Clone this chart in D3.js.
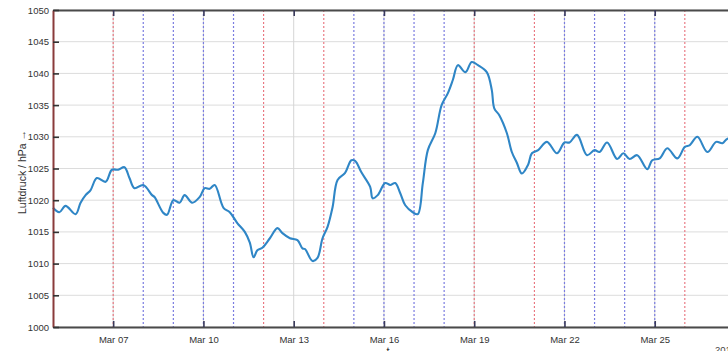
<!DOCTYPE html>
<html>
<head>
<meta charset="utf-8">
<script src="https://cdn.jsdelivr.net/npm/d3@7"></script>
<style>
  html, body { margin: 0; padding: 0; background: #fff; }
  svg { display: block; }
  text { font-family: "Liberation Sans", Arial, sans-serif; }
</style>
</head>
<body>
<svg id="chart" width="728" height="351"></svg>
<script>
// Pressure record, hours after 2015-03-05 00:00 UTC
const hours = [0, 5, 10, 18, 22, 26, 30, 35, 42, 47, 52, 57, 61, 65, 72, 79, 81, 88, 91, 96,
  101, 105, 111, 117, 121, 125, 129, 136, 141, 147, 153, 157, 160, 163, 167, 173, 179, 183, 189, 195,
  199, 201, 207, 211, 215, 219, 223, 227, 233, 238, 241, 246, 253, 255, 259, 265, 269, 273, 277, 281,
  287, 291, 295, 299, 305, 310, 315, 319, 323, 329, 334, 339, 346, 350, 352, 356, 362, 366, 370, 374,
  379, 382, 387, 394, 402, 408, 412, 418, 426, 432, 436, 442, 450, 455, 460, 466, 474, 478, 484, 490,
  498, 504, 508, 514, 522, 529, 534, 538, 548];
const pressure = [1018.8, 1018.1, 1019.1, 1017.8, 1019.6, 1020.8, 1021.6, 1023.5, 1022.9, 1024.8,
  1024.8, 1025.2, 1023.5, 1021.9, 1022.4, 1020.8, 1020.5, 1018.0, 1017.7, 1020.0,
  1019.6, 1020.8, 1019.6, 1020.5, 1021.9, 1021.8, 1022.4, 1018.8, 1018.1, 1016.4,
  1015.0, 1013.3, 1011.0, 1012.1, 1012.5, 1014.0, 1015.6, 1014.8, 1014.0, 1013.7,
  1012.4, 1012.3, 1010.4, 1010.9, 1014.0, 1015.8, 1018.9, 1023.2, 1024.3, 1026.3,
  1026.2, 1024.4, 1022.1, 1020.3, 1020.8, 1022.7, 1022.4, 1022.7, 1021.1, 1019.2,
  1018.1, 1017.8, 1022.7, 1027.9, 1030.6, 1035.0, 1036.9, 1039.0, 1041.3, 1040.2,
  1041.8, 1041.3, 1040.2, 1037.4, 1034.5, 1033.4, 1030.6, 1027.6, 1025.9, 1024.2,
  1025.6, 1027.4, 1027.9, 1029.2, 1027.4, 1029.1, 1029.1, 1030.3, 1027.1, 1027.9,
  1027.6, 1029.1, 1026.5, 1027.4, 1026.5, 1027.1, 1024.9, 1026.3, 1026.6, 1028.2,
  1026.6, 1028.4, 1028.7, 1030.0, 1027.6, 1029.2, 1029.0, 1029.7, 1029.5];

// Marked days (dotted verticals)
const redDays = ["2015-03-07", "2015-03-12", "2015-03-14", "2015-03-19", "2015-03-21", "2015-03-26"];
const blueDays = ["2015-03-08", "2015-03-09", "2015-03-10", "2015-03-11", "2015-03-15", "2015-03-16",
  "2015-03-17", "2015-03-18", "2015-03-22", "2015-03-23", "2015-03-24", "2015-03-25"];

// Axis ticks
const xTickDays = ["2015-03-07", "2015-03-10", "2015-03-13", "2015-03-16", "2015-03-19", "2015-03-22", "2015-03-25"];
const yTicks = [1000, 1005, 1010, 1015, 1020, 1025, 1030, 1035, 1040, 1045, 1050];

const start = Date.UTC(2015, 2, 5);
const parse = d3.utcParse("%Y-%m-%d");
const data = hours.map((h, i) => ({ t: new Date(start + h * 3600e3), v: pressure[i] }));

const svg = d3.select("#chart");
const plot = { left: 53, right: 745, top: 10, bottom: 327 };

const x = d3.scaleUtc().domain([new Date(start), new Date(Date.UTC(2015, 2, 28))]).range([plot.left, plot.right]);
const y = d3.scaleLinear().domain([1000, 1050]).range([plot.bottom, plot.top]);

// Grid
const grid = svg.append("g");
grid.selectAll("line.h").data(yTicks).join("line")
  .attr("x1", plot.left).attr("x2", plot.right)
  .attr("y1", d => y(d)).attr("y2", d => y(d))
  .attr("stroke", "#dcdcdc").attr("stroke-width", 1);
grid.selectAll("line.v").data(xTickDays.map(parse)).join("line")
  .attr("x1", d => x(d)).attr("x2", d => x(d))
  .attr("y1", plot.top).attr("y2", plot.bottom)
  .attr("stroke", "#d6d6d6").attr("stroke-width", 1);

// Dotted day markers
const marks = svg.append("g");
marks.selectAll("line.red").data(redDays.map(parse)).join("line")
  .attr("x1", d => x(d)).attr("x2", d => x(d))
  .attr("y1", plot.top).attr("y2", plot.bottom)
  .attr("stroke", "#e8707a").attr("stroke-width", 1.1)
  .attr("stroke-dasharray", "2,2");
marks.selectAll("line.blue").data(blueDays.map(parse)).join("line")
  .attr("x1", d => x(d)).attr("x2", d => x(d))
  .attr("y1", plot.top).attr("y2", plot.bottom)
  .attr("stroke", "#7a7ce0").attr("stroke-width", 1.2)
  .attr("stroke-dasharray", "2,2");

// Pressure curve
const line = d3.line().x(d => x(d.t)).y(d => y(d.v)).curve(d3.curveCatmullRom.alpha(0.5));
svg.append("path").datum(data)
  .attr("d", line)
  .attr("fill", "none")
  .attr("stroke", "#2f86c6")
  .attr("stroke-width", 2.1)
  .attr("stroke-linejoin", "round");

// Axes (ticks pointing inward)
const fmt = d3.utcFormat("%b %d");
const xAxisB = svg.append("g").attr("transform", `translate(0,${plot.bottom})`)
  .call(d3.axisBottom(x).tickValues(xTickDays.map(parse)).tickFormat(fmt).tickSizeInner(-6).tickSizeOuter(0).tickPadding(9));
const xAxisT = svg.append("g").attr("transform", `translate(0,${plot.top})`)
  .call(d3.axisTop(x).tickValues(xTickDays.map(parse)).tickFormat("").tickSizeInner(-6).tickSizeOuter(0));
const yAxisL = svg.append("g").attr("transform", `translate(${plot.left},0)`)
  .call(d3.axisLeft(y).tickValues(yTicks).tickFormat(d3.format("d")).tickSizeInner(-6).tickSizeOuter(0).tickPadding(4));

[xAxisB, xAxisT].forEach(g => {
  g.select(".domain").attr("stroke", "#4a4a4a").attr("stroke-width", 2);
  g.selectAll(".tick line").attr("stroke", "#3a3a5a").attr("stroke-width", 1.6);
});
yAxisL.select(".domain").attr("stroke", "#8a3b3b").attr("stroke-width", 2);
yAxisL.selectAll(".tick line").attr("stroke", "#333").attr("stroke-width", 1.6);
svg.selectAll(".tick text").attr("font-size", 9.5).attr("fill", "#333")
  .attr("font-family", "'Liberation Sans', Arial, sans-serif");

// Labels
svg.append("text")
  .attr("transform", "translate(26,172) rotate(-90)")
  .attr("text-anchor", "middle")
  .attr("font-size", 10.5).attr("fill", "#333")
  .text("Luftdruck  / hPa \u2192");
svg.append("text")
  .attr("x", 395).attr("y", 355)
  .attr("text-anchor", "middle")
  .attr("font-size", 11).attr("fill", "#333")
  .text("t \u2192");
svg.append("text")
  .attr("x", 715).attr("y", 353)
  .attr("font-size", 9.5).attr("fill", "#444")
  .text("2015");
</script>
</body>
</html>
